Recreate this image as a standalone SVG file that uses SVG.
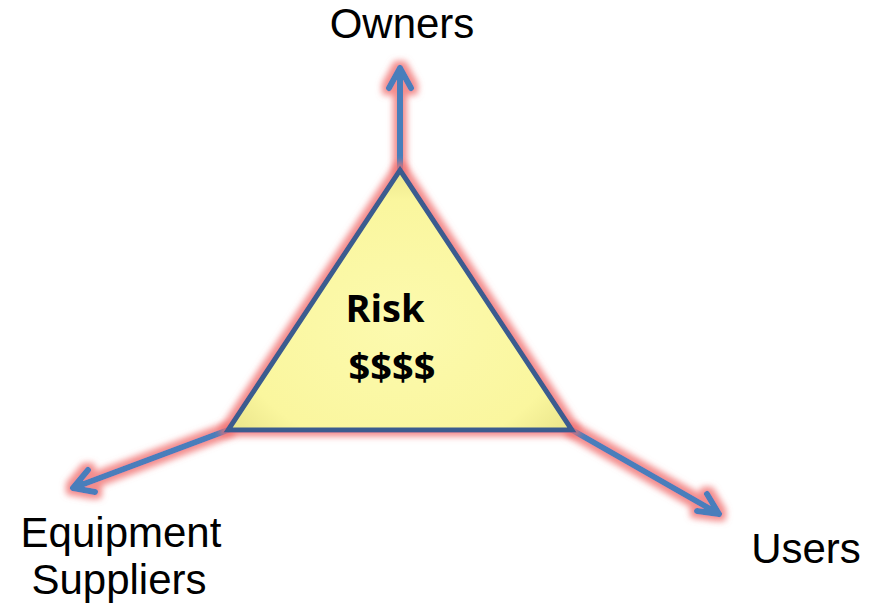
<svg xmlns="http://www.w3.org/2000/svg" width="876" height="606" viewBox="0 0 876 606">
  <style>
    .lbl { font-family: "Liberation Sans", Arial, sans-serif; font-size: 42px; fill: #000; }
    .risk { font-family: "Open Sans", "Noto Sans", sans-serif; font-weight: bold; font-size: 38px; fill: #000; text-anchor: middle; }
    .arrow { fill: none; stroke: #4A7EBB; stroke-width: 6; stroke-linecap: round; stroke-linejoin: round; }
    .tri { stroke: #3B5B8F; stroke-width: 5; stroke-linejoin: miter; }
  </style>
  <defs>
    <filter id="glow" x="-20%" y="-20%" width="140%" height="140%">
      <feMorphology in="SourceAlpha" operator="dilate" radius="3.5" result="thick"/>
      <feGaussianBlur in="thick" stdDeviation="3.2" result="soft"/>
      <feFlood flood-color="#F07070" flood-opacity="0.8"/>
      <feComposite in2="soft" operator="in" result="halo"/>
      <feMerge>
        <feMergeNode in="halo"/>
        <feMergeNode in="SourceGraphic"/>
      </feMerge>
    </filter>
    <radialGradient id="triFill" cx="0.5" cy="0.6" r="0.6">
      <stop offset="0" stop-color="#FCFAAE"/>
      <stop offset="0.8" stop-color="#FAF69E"/>
      <stop offset="1" stop-color="#EDE88E"/>
    </radialGradient>
  </defs>

  <g id="connectors" filter="url(#glow)">
    <!-- to Owners -->
    <path class="arrow" d="M400,170 L400,68 M389,88 L400,68 L411,88"/>
    <!-- to Users -->
    <path class="arrow" d="M572,430 L719,514 M697,511 L719,514 L707,494"/>
    <!-- to Equipment Suppliers -->
    <path class="arrow" d="M228,430 L73,488 M88,470 L73,488 L95,492"/>
  </g>

  <g id="risk" filter="url(#glow)">
    <polygon class="tri" points="400,170 572,430 228,430" fill="url(#triFill)"/>
  </g>
  <g id="risk-label">
    <text class="risk" x="385" y="322">Risk</text>
    <text class="risk" x="392" y="381" font-size="41">$$$$</text>
  </g>

  <g id="owners">
    <text class="lbl" x="402" y="38" text-anchor="middle">Owners</text>
  </g>
  <g id="equipment-suppliers">
    <text class="lbl" x="121" y="547" text-anchor="middle">Equipment</text>
    <text class="lbl" x="119" y="594" text-anchor="middle">Suppliers</text>
  </g>
  <g id="users">
    <text class="lbl" x="806" y="563" text-anchor="middle">Users</text>
  </g>
</svg>
